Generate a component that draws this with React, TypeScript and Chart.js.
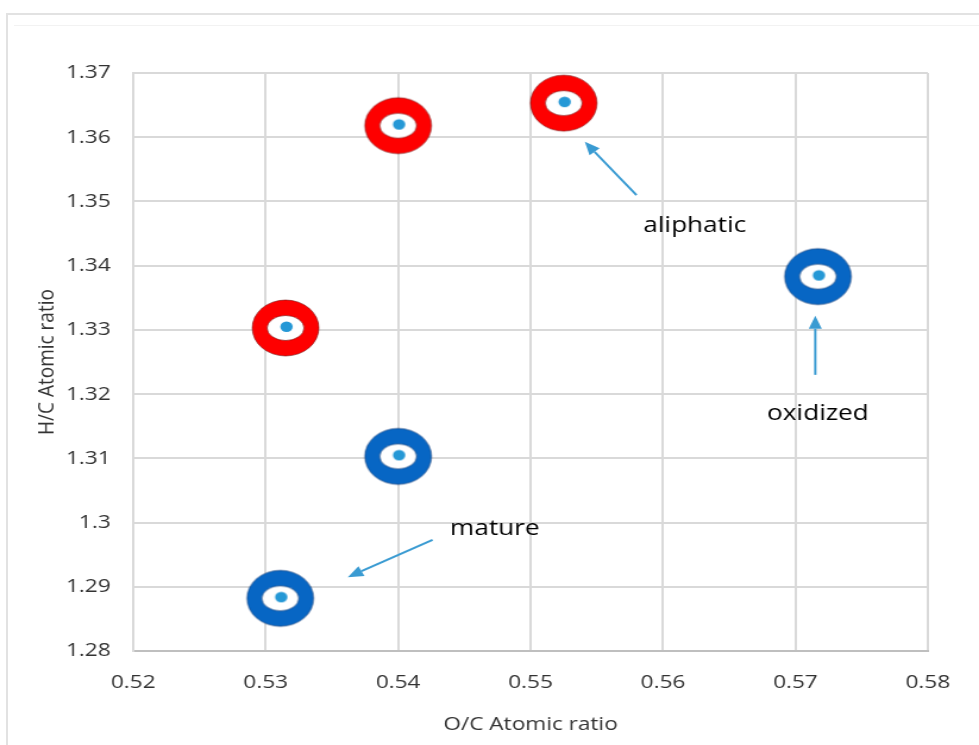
import React, { useEffect, useRef } from 'react';
import { Chart, registerables } from 'chart.js';

Chart.register(...registerables);

// ---- data ----
const redX = [0.54, 0.5525, 0.5315];
const redY = [1.3618, 1.3653, 1.3303];
const blueX = [0.5717, 0.54, 0.5311];
const blueY = [1.3383, 1.3103, 1.2882];

const xTicks = [0.52, 0.53, 0.54, 0.55, 0.56, 0.57, 0.58];
const xTickLabels = ['0.52', '0.53', '0.54', '0.55', '0.56', '0.57', '0.58'];
const yTicks = [1.28, 1.29, 1.3, 1.31, 1.32, 1.33, 1.34, 1.35, 1.36, 1.37];
const yTickLabels = ['1.28', '1.29', '1.3', '1.31', '1.32', '1.33', '1.34', '1.35', '1.36', '1.37'];

const xTitle = 'O/C Atomic ratio';
const yTitle = 'H/C Atomic ratio';

const noteLabels = ['aliphatic', 'oxidized', 'mature'];
const noteLabelX = [0.5624, 0.5717, 0.5473];
const noteLabelY = [1.3452, 1.316, 1.298];
const arrowFromX = [0.558, 0.5715, 0.5426];
const arrowFromY = [1.351, 1.323, 1.2973];
const arrowToX = [0.5541, 0.5715, 0.5362];
const arrowToY = [1.3593, 1.3322, 1.2915];

// ---- look ----
const STRETCH = 979 / 823;
const W = 823;
const H = 745;
const FONT = "'Open Sans', 'Noto Sans', sans-serif";
const RED = '#fe0000';
const RED_EDGE = 'rgba(110,0,0,0.55)';
const BLUE = '#0766c4';
const BLUE_EDGE = 'rgba(0,40,100,0.55)';
const DOT = '#2598d6';
const ARROW = '#3a9bd2';
const GRID = '#d9d9d9';

function makeMarker(color: string, edge: string): HTMLCanvasElement {
  const c = document.createElement('canvas');
  c.width = 60;
  c.height = 60;
  const g = c.getContext('2d')!;
  const cx = 30;
  const cy = 30;
  g.fillStyle = color;
  g.beginPath();
  g.arc(cx, cy, 28, 0, Math.PI * 2);
  g.fill();
  g.strokeStyle = edge;
  g.lineWidth = 1;
  g.stroke();
  g.fillStyle = '#ffffff';
  g.beginPath();
  g.ellipse(cx, cy, 15.5, 12.5, 0, 0, Math.PI * 2);
  g.fill();
  g.stroke();
  g.fillStyle = DOT;
  g.beginPath();
  g.arc(cx + 0.8, cy - 1.3, 5.2, 0, Math.PI * 2);
  g.fill();
  return c;
}

const annotationPlugin = {
  id: 'notes',
  afterDatasetsDraw(chart: any) {
    const { ctx, scales } = chart;
    const xs = scales.x;
    const ys = scales.y;
    ctx.save();
    for (let i = 0; i < arrowFromX.length; i++) {
      const x1 = xs.getPixelForValue(arrowFromX[i]);
      const y1 = ys.getPixelForValue(arrowFromY[i]);
      const x2 = xs.getPixelForValue(arrowToX[i]);
      const y2 = ys.getPixelForValue(arrowToY[i]);
      const ang = Math.atan2(y2 - y1, x2 - x1);
      const headLen = 13;
      const headHalf = 5.5;
      const bx = x2 - headLen * Math.cos(ang);
      const by = y2 - headLen * Math.sin(ang);
      ctx.strokeStyle = ARROW;
      ctx.lineWidth = 2;
      ctx.beginPath();
      ctx.moveTo(x1, y1);
      ctx.lineTo(bx, by);
      ctx.stroke();
      ctx.fillStyle = ARROW;
      ctx.beginPath();
      ctx.moveTo(x2, y2);
      ctx.lineTo(bx + headHalf * Math.sin(ang), by - headHalf * Math.cos(ang));
      ctx.lineTo(bx - headHalf * Math.sin(ang), by + headHalf * Math.cos(ang));
      ctx.closePath();
      ctx.fill();
    }
    ctx.fillStyle = '#000000';
    ctx.font = `22px ${FONT}`;
    ctx.textAlign = 'center';
    ctx.textBaseline = 'alphabetic';
    for (let i = 0; i < noteLabels.length; i++) {
      ctx.fillText(noteLabels[i], xs.getPixelForValue(noteLabelX[i]), ys.getPixelForValue(noteLabelY[i]));
    }
    ctx.restore();
  },
};

export default function App() {
  const ref = useRef<HTMLCanvasElement | null>(null);

  useEffect(() => {
    if (!ref.current) return;
    const toPts = (xa: number[], ya: number[]) => xa.map((x, i) => ({ x, y: ya[i] }));
    const redMarker = makeMarker(RED, RED_EDGE);
    const blueMarker = makeMarker(BLUE, BLUE_EDGE);
    const chart = new Chart(ref.current, {
      type: 'scatter',
      data: {
        datasets: [
          {
            label: 'red',
            data: toPts(redX, redY),
            pointStyle: redMarker,
            pointRadius: 28,
            pointHoverRadius: 28,
          },
          {
            label: 'blue',
            data: toPts(blueX, blueY),
            pointStyle: blueMarker,
            pointRadius: 28,
            pointHoverRadius: 28,
          },
        ],
      },
      options: {
        animation: false,
        responsive: false,
        events: [],
        layout: { padding: { left: 0, top: 73, right: 43, bottom: 0 } },
        plugins: { legend: { display: false }, tooltip: { enabled: false } },
        scales: {
          x: {
            type: 'linear',
            min: 0.52,
            max: 0.58,
            afterBuildTicks: (axis: any) => {
              axis.ticks = xTicks.map((v) => ({ value: v }));
            },
            afterFit: (scale: any) => {
              scale.height = 94;
              scale.paddingLeft = 0;
              scale.paddingRight = 0;
            },
            ticks: {
              callback: (_v: any, i: number) => xTickLabels[i],
              color: '#333333',
              font: { family: FONT, size: 19 },
              padding: 20,
              maxRotation: 0,
            },
            grid: { color: GRID, lineWidth: 2, drawTicks: false },
            border: { color: '#bfbfbf', width: 2 },
            title: {
              display: true,
              text: xTitle,
              color: '#333333',
              font: { family: FONT, size: 19 },
              padding: { top: 0, bottom: 9 },
            },
          },
          y: {
            type: 'linear',
            min: 1.28,
            max: 1.37,
            afterBuildTicks: (axis: any) => {
              axis.ticks = yTicks.map((v) => ({ value: v }));
            },
            afterFit: (scale: any) => {
              scale.width = 112;
              scale.paddingTop = 0;
              scale.paddingBottom = 0;
            },
            ticks: {
              callback: (_v: any, i: number) => yTickLabels[i],
              color: '#333333',
              font: { family: FONT, size: 19 },
              padding: 19,
            },
            grid: { color: GRID, lineWidth: 2, drawTicks: false },
            border: { color: GRID, width: 2 },
            title: {
              display: true,
              text: yTitle,
              color: '#333333',
              font: { family: FONT, size: 19 },
              padding: { top: 28, bottom: 0 },
            },
          },
        },
      },
      plugins: [annotationPlugin],
    });
    return () => chart.destroy();
  }, []);

  return (
    <div
      style={{
        position: 'absolute',
        left: 0,
        top: 0,
        width: 979,
        height: 745,
        overflow: 'hidden',
        background: '#ffffff',
      }}
    >
      <div
        style={{
          position: 'absolute',
          left: 6,
          top: 13,
          width: 990,
          height: 760,
          border: '2px solid #e2e2e2',
          boxSizing: 'border-box',
        }}
      />
      <div
        style={{
          position: 'absolute',
          left: 14,
          top: 25,
          width: 980,
          height: 0,
          borderTop: '1px solid #f2f2f2',
        }}
      />
      <canvas
        ref={ref}
        width={W}
        height={H}
        style={{
          position: 'absolute',
          left: 0,
          top: 0,
          width: W,
          height: H,
          transform: `scaleX(${STRETCH})`,
          transformOrigin: '0 0',
        }}
      />
    </div>
  );
}
